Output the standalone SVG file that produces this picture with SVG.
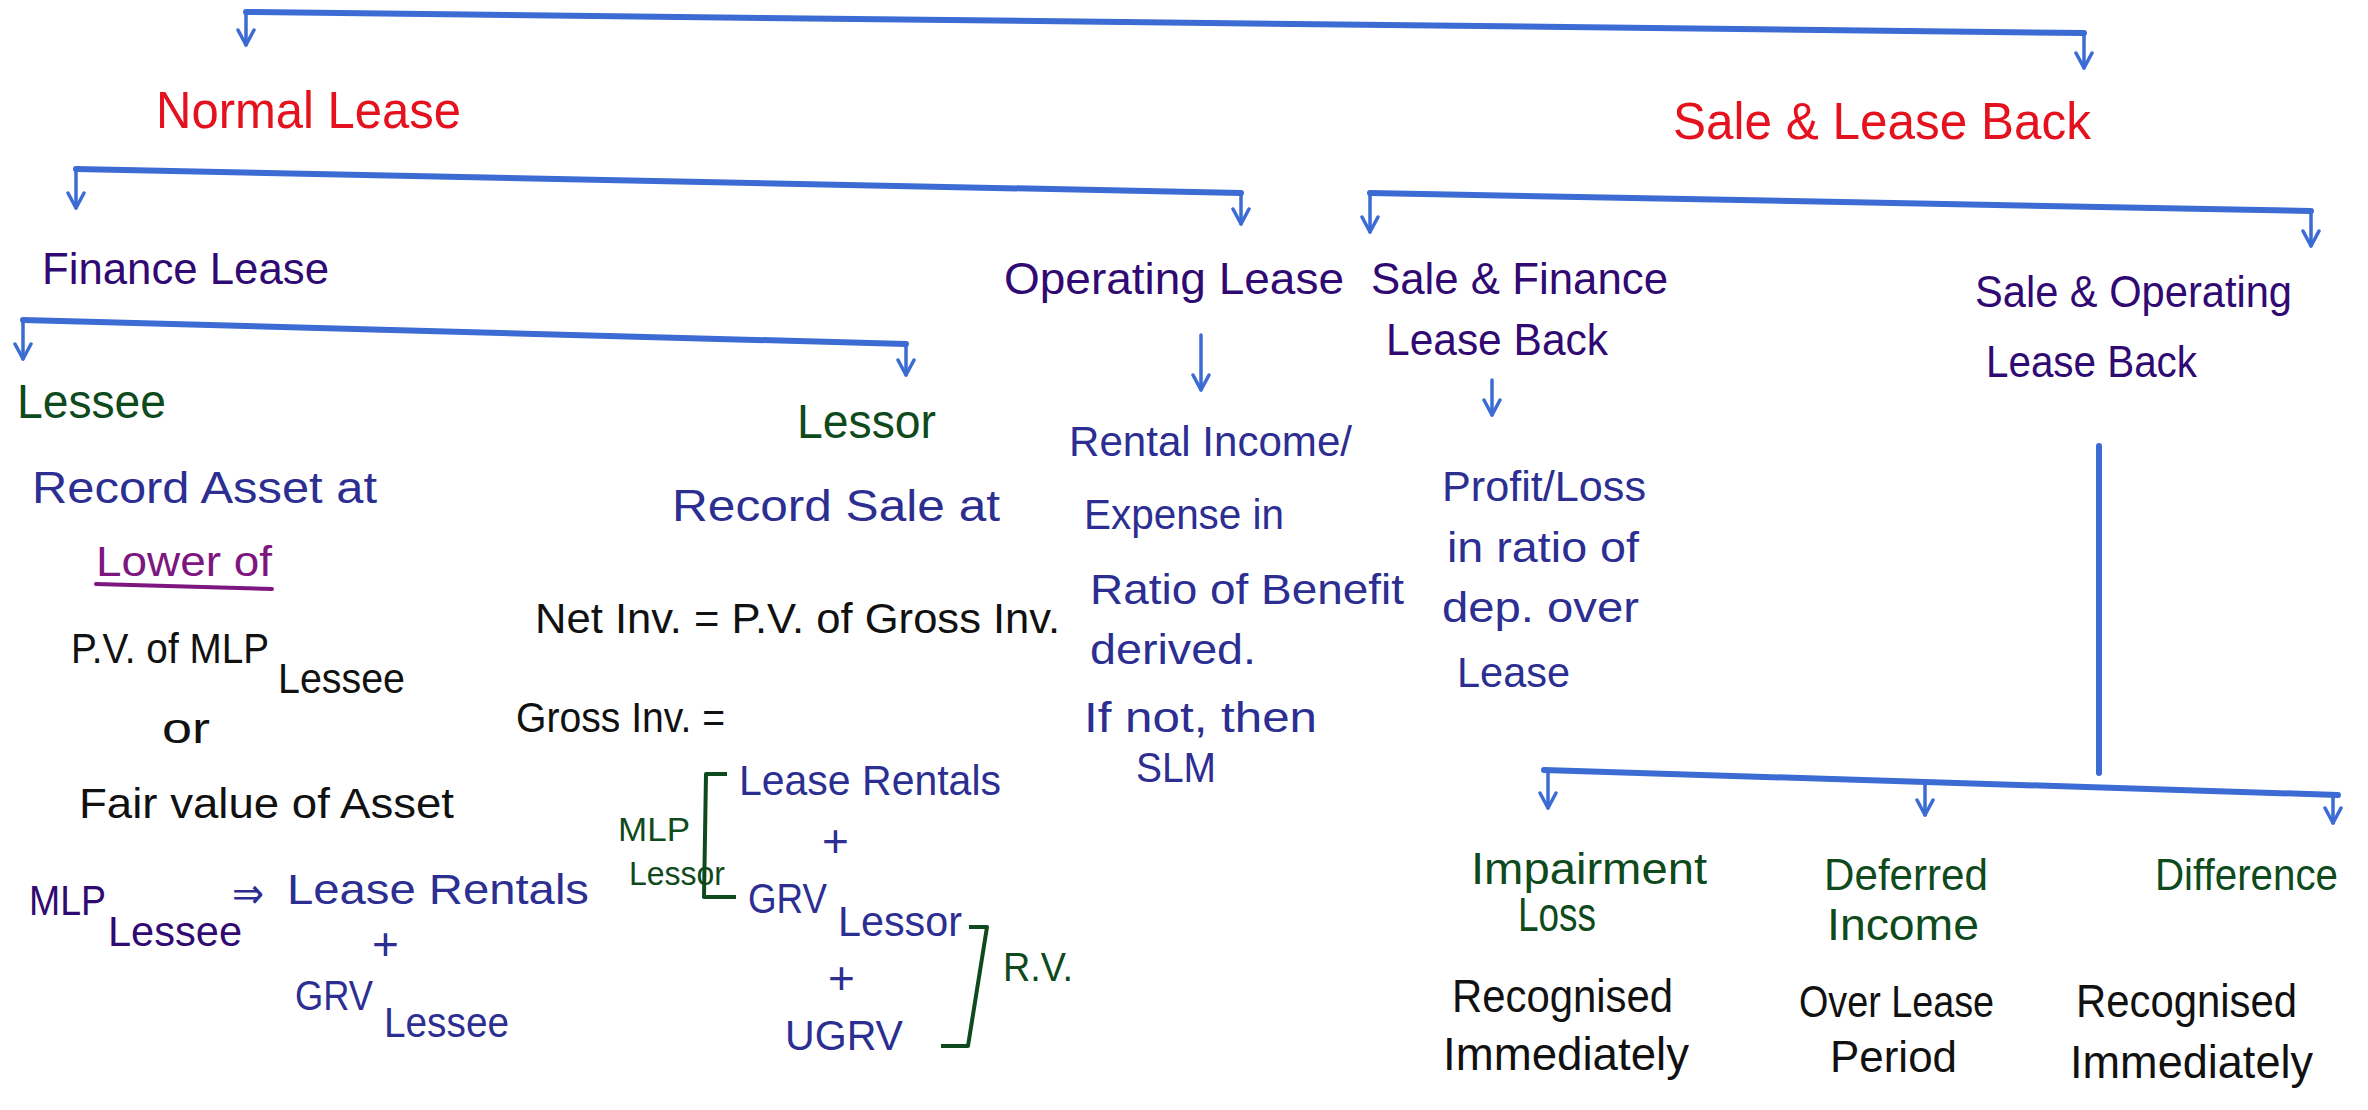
<svg xmlns="http://www.w3.org/2000/svg" width="2368" height="1110" viewBox="0 0 2368 1110">
<style>
text{font-family:"Liberation Sans","DejaVu Sans",sans-serif;}
.red{fill:#e3121e;font-size:52px}
.pur{fill:#300a72;font-size:44px}
.grn{fill:#0e4a1c;font-size:44px}
.nav{fill:#2c2e92;font-size:42px}
.blk{fill:#111;font-size:42px}
.mag{fill:#7e1680;font-size:42px}
.bar{stroke:#3b6bd3;stroke-width:6;fill:none;stroke-linecap:round}
.drop{stroke:#3b6bd3;stroke-width:3.5;fill:none;stroke-linecap:round;marker-end:url(#arr)}
.brk{stroke:#0e4a1c;stroke-width:4;fill:none;stroke-linejoin:round}
</style>
<defs>
<marker id="arr" viewBox="0 0 20 20" refX="18" refY="10" markerWidth="20" markerHeight="20" markerUnits="userSpaceOnUse" orient="auto">
<path d="M3,2 L18,10 L3,18" fill="none" stroke="#3b6bd3" stroke-width="3.5" stroke-linecap="round" stroke-linejoin="round"/>
</marker>
</defs>
<rect width="2368" height="1110" fill="#fff"/>
<g id="connectors">
<path class="bar" d="M246,12 L2084,33"/>
<path class="drop" d="M246,12 L246,45"/>
<path class="drop" d="M2084,33 L2084,68"/>
<path class="bar" d="M76,169 L1241,193"/>
<path class="drop" d="M76,169 L76,208"/>
<path class="drop" d="M1241,193 L1241,224"/>
<path class="bar" d="M1370,193 L2311,211"/>
<path class="drop" d="M1370,193 L1370,232"/>
<path class="drop" d="M2311,211 L2311,246"/>
<path class="bar" d="M23,320 L906,344"/>
<path class="drop" d="M23,320 L23,359"/>
<path class="drop" d="M906,344 L906,375"/>
<path class="drop" d="M1201,335 L1201,390"/>
<path class="drop" d="M1492,380 L1492,415"/>
<path class="bar" d="M2099,446 L2099,773"/>
<path class="bar" d="M1544,770 L2338,795"/>
<path class="drop" d="M1548,772 L1548,808"/>
<path class="drop" d="M1925,783 L1925,815"/>
<path class="drop" d="M2333,795 L2333,823"/>
</g>
<g id="normal-lease"><text class="red" x="156" y="128" textLength="305" lengthAdjust="spacingAndGlyphs">Normal Lease</text></g>
<g id="sale-lease-back"><text class="red" x="1673" y="139" textLength="418" lengthAdjust="spacingAndGlyphs">Sale &amp; Lease Back</text></g>
<g id="finance-lease"><text class="pur" x="42" y="284" textLength="287" lengthAdjust="spacingAndGlyphs">Finance Lease</text></g>
<g id="operating-lease"><text class="pur" x="1004" y="294" textLength="340" lengthAdjust="spacingAndGlyphs">Operating Lease</text></g>
<g id="sale-finance-lease-back">
<text class="pur" x="1371" y="294" textLength="297" lengthAdjust="spacingAndGlyphs">Sale &amp; Finance</text>
<text class="pur" x="1386" y="355" textLength="222" lengthAdjust="spacingAndGlyphs">Lease Back</text>
</g>
<g id="sale-operating-lease-back">
<text class="pur" x="1975" y="307" textLength="317" lengthAdjust="spacingAndGlyphs">Sale &amp; Operating</text>
<text class="pur" x="1986" y="377" textLength="211" lengthAdjust="spacingAndGlyphs">Lease Back</text>
</g>
<g id="lessee">
<text class="grn" x="17" y="418" textLength="149" lengthAdjust="spacingAndGlyphs" style="font-size:48px">Lessee</text>
<text class="nav" x="32" y="503" textLength="345" lengthAdjust="spacingAndGlyphs" style="font-size:44px">Record Asset at</text>
<text class="mag" x="96" y="576" textLength="176" lengthAdjust="spacingAndGlyphs">Lower of</text>
<path d="M96,584 L272,589" stroke="#7e1680" stroke-width="4" fill="none" stroke-linecap="round"/>
<text class="blk" x="71" y="663" textLength="198" lengthAdjust="spacingAndGlyphs">P.V. of MLP</text>
<text class="blk" x="278" y="693" textLength="127" lengthAdjust="spacingAndGlyphs">Lessee</text>
<text class="blk" x="162" y="743" textLength="48" lengthAdjust="spacingAndGlyphs">or</text>
<text class="blk" x="79" y="818" textLength="375" lengthAdjust="spacingAndGlyphs">Fair value of Asset</text>
<text class="pur" x="29" y="915" textLength="77" lengthAdjust="spacingAndGlyphs" style="font-size:42px">MLP</text>
<text class="pur" x="108" y="946" textLength="134" lengthAdjust="spacingAndGlyphs" style="font-size:42px">Lessee</text>
<text class="nav" x="232" y="908" textLength="32" lengthAdjust="spacingAndGlyphs">⇒</text>
<text class="nav" x="287" y="904" textLength="302" lengthAdjust="spacingAndGlyphs">Lease Rentals</text>
<text class="nav" x="372" y="960" style="font-size:46px">+</text>
<text class="nav" x="295" y="1010" textLength="78" lengthAdjust="spacingAndGlyphs">GRV</text>
<text class="nav" x="384" y="1037" textLength="125" lengthAdjust="spacingAndGlyphs">Lessee</text>
</g>
<g id="lessor">
<text class="grn" x="797" y="438" textLength="139" lengthAdjust="spacingAndGlyphs" style="font-size:48px">Lessor</text>
<text class="nav" x="672" y="521" textLength="328" lengthAdjust="spacingAndGlyphs" style="font-size:44px">Record Sale at</text>
<text class="blk" x="535" y="633" textLength="525" lengthAdjust="spacingAndGlyphs">Net Inv. = P.V. of Gross Inv.</text>
<text class="blk" x="516" y="732" textLength="209" lengthAdjust="spacingAndGlyphs">Gross Inv. =</text>
<text class="grn" x="618" y="841" textLength="72" lengthAdjust="spacingAndGlyphs" style="font-size:34px">MLP</text>
<text class="grn" x="629" y="885" textLength="96" lengthAdjust="spacingAndGlyphs" style="font-size:34px">Lessor</text>
<path class="brk" d="M727,774 L706,774 L704,897 L736,897"/>
<text class="nav" x="739" y="795" textLength="262" lengthAdjust="spacingAndGlyphs">Lease Rentals</text>
<text class="nav" x="822" y="857" style="font-size:46px">+</text>
<text class="nav" x="748" y="913" textLength="79" lengthAdjust="spacingAndGlyphs">GRV</text>
<text class="nav" x="838" y="936" textLength="124" lengthAdjust="spacingAndGlyphs">Lessor</text>
<text class="nav" x="828" y="994" style="font-size:46px">+</text>
<text class="nav" x="785" y="1050" textLength="118" lengthAdjust="spacingAndGlyphs">UGRV</text>
<path class="brk" d="M969,927 L987,927 L968,1046 L941,1046"/>
<text class="grn" x="1003" y="981" textLength="70" lengthAdjust="spacingAndGlyphs" style="font-size:40px">R.V.</text>
</g>
<g id="operating-treatment">
<text class="nav" x="1069" y="456" textLength="283" lengthAdjust="spacingAndGlyphs">Rental Income/</text>
<text class="nav" x="1084" y="529" textLength="200" lengthAdjust="spacingAndGlyphs">Expense in</text>
<text class="nav" x="1090" y="604" textLength="314" lengthAdjust="spacingAndGlyphs">Ratio of Benefit</text>
<text class="nav" x="1090" y="664" textLength="166" lengthAdjust="spacingAndGlyphs">derived.</text>
<text class="nav" x="1084" y="732" textLength="233" lengthAdjust="spacingAndGlyphs">If not, then</text>
<text class="nav" x="1136" y="782" textLength="80" lengthAdjust="spacingAndGlyphs">SLM</text>
</g>
<g id="finance-back-treatment">
<text class="nav" x="1442" y="501" textLength="204" lengthAdjust="spacingAndGlyphs">Profit/Loss</text>
<text class="nav" x="1447" y="562" textLength="192" lengthAdjust="spacingAndGlyphs">in ratio of</text>
<text class="nav" x="1442" y="622" textLength="197" lengthAdjust="spacingAndGlyphs">dep. over</text>
<text class="nav" x="1457" y="687" textLength="113" lengthAdjust="spacingAndGlyphs">Lease</text>
</g>
<g id="impairment-loss">
<text class="grn" x="1471" y="884" textLength="236" lengthAdjust="spacingAndGlyphs">Impairment</text>
<text class="grn" x="1518" y="931" textLength="78" lengthAdjust="spacingAndGlyphs" style="font-size:48px">Loss</text>
<text class="blk" x="1452" y="1012" textLength="221" lengthAdjust="spacingAndGlyphs" style="font-size:46px">Recognised</text>
<text class="blk" x="1443" y="1070" textLength="246" lengthAdjust="spacingAndGlyphs" style="font-size:46px">Immediately</text>
</g>
<g id="deferred-income">
<text class="grn" x="1824" y="890" textLength="164" lengthAdjust="spacingAndGlyphs">Deferred</text>
<text class="grn" x="1827" y="940" textLength="152" lengthAdjust="spacingAndGlyphs">Income</text>
<text class="blk" x="1799" y="1017" textLength="195" lengthAdjust="spacingAndGlyphs" style="font-size:44px">Over Lease</text>
<text class="blk" x="1830" y="1072" textLength="127" lengthAdjust="spacingAndGlyphs" style="font-size:44px">Period</text>
</g>
<g id="difference">
<text class="grn" x="2155" y="890" textLength="183" lengthAdjust="spacingAndGlyphs">Difference</text>
<text class="blk" x="2076" y="1017" textLength="221" lengthAdjust="spacingAndGlyphs" style="font-size:46px">Recognised</text>
<text class="blk" x="2070" y="1078" textLength="243" lengthAdjust="spacingAndGlyphs" style="font-size:46px">Immediately</text>
</g>
</svg>
